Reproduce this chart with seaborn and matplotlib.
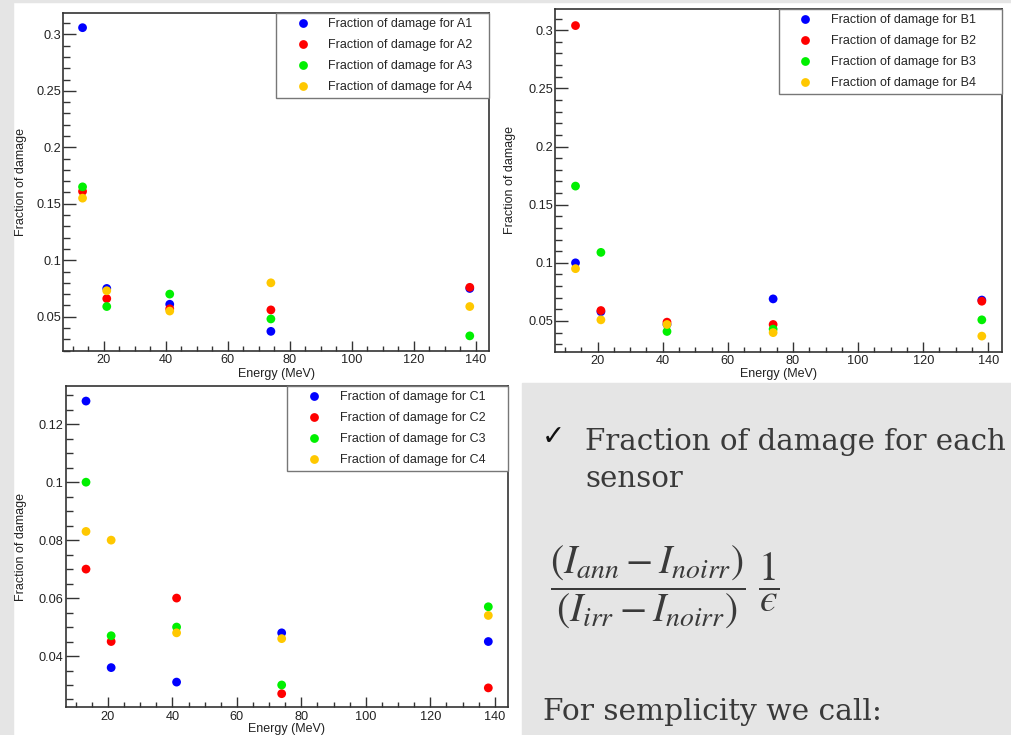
import matplotlib
matplotlib.use("Agg")
import matplotlib.pyplot as plt
from matplotlib.patches import Rectangle
from matplotlib.ticker import MultipleLocator, FuncFormatter
import pandas as pd
import seaborn as sns

# energie dei fasci (MeV)
energy = [13.2, 21.0, 41.3, 73.9, 138.0]

# frazione di danno, sensori A
a1 = [0.306, 0.075, 0.061, 0.037, 0.075]
a2 = [0.161, 0.066, 0.057, 0.056, 0.076]
a3 = [0.165, 0.059, 0.070, 0.048, 0.033]
a4 = [0.155, 0.073, 0.055, 0.080, 0.059]

# sensori B
b1 = [0.100, 0.058, 0.047, 0.069, 0.068]
b2 = [0.304, 0.059, 0.049, 0.047, 0.067]
b3 = [0.166, 0.109, 0.041, 0.043, 0.051]
b4 = [0.095, 0.051, 0.047, 0.040, 0.037]

# sensori C
c1 = [0.128, 0.036, 0.031, 0.048, 0.045]
c2 = [0.070, 0.045, 0.060, 0.027, 0.029]
c3 = [0.100, 0.047, 0.050, 0.030, 0.057]
c4 = [0.083, 0.080, 0.048, 0.046, 0.054]

colors = ['#0000ff', '#ff0000', '#00f000', '#ffc800']

W, H = 1011, 735
sns.set_style("white")
plt.rcParams['font.family'] = ['Liberation Sans', 'DejaVu Sans']
plt.rcParams['mathtext.fontset'] = 'stix'

fig = plt.figure(figsize=(W / 100, H / 100), dpi=100, facecolor='white')
grey = '#e5e5e5'


def box(l, t, r, b):
    return [l / W, 1 - b / H, (r - l) / W, (b - t) / H]


def px(x, y):
    return x / W, 1 - y / H


# sfondo grigio della slide
for l, t, r, b in [(0, 0, 13, H), (0, 0, W, 2), (522, 383, W, H)]:
    fig.patches.append(Rectangle((l / W, 1 - b / H), (r - l) / W, (b - t) / H,
                                 transform=fig.transFigure, color=grey, zorder=-5))


def panel(rect, letter, series, ylim, ymaj, ymin, ylab_x, xlab_y):
    ax = fig.add_axes(box(*rect))
    names = [f"Fraction of damage for {letter}{i + 1}" for i in range(4)]
    df = pd.DataFrame({
        'Energy': energy * 4,
        'Fraction': sum(series, []),
        'Sensor': [n for n in names for _ in energy],
    })
    sns.scatterplot(data=df, x='Energy', y='Fraction', hue='Sensor', hue_order=names,
                    palette=dict(zip(names, colors)), s=40, linewidth=0, ax=ax)
    sns.move_legend(ax, 'upper left', bbox_to_anchor=(0.5, 0.7, 0.5, 0.3), mode='expand',
                    title=None, fontsize=9, frameon=True, fancybox=False, framealpha=1,
                    edgecolor='#777777', borderpad=0.4, labelspacing=0.72,
                    handlelength=3.45, handletextpad=0.35, borderaxespad=0)
    ax.get_legend().get_frame().set_linewidth(1.0)

    ax.set_xlim(6.9, 144.2)
    ax.set_ylim(*ylim)
    ax.xaxis.set_major_locator(MultipleLocator(20))
    ax.xaxis.set_minor_locator(MultipleLocator(5))
    ax.yaxis.set_major_locator(MultipleLocator(ymaj))
    ax.yaxis.set_minor_locator(MultipleLocator(ymin))
    ax.yaxis.set_major_formatter(FuncFormatter(lambda v, p: f"{v:g}"))
    ax.tick_params(which='both', direction='in', bottom=True, left=True, top=False, right=False,
                   width=1, color='#333333', labelcolor='#222222', labelsize=9.2)
    ax.tick_params(axis='x', which='major', length=7.2, pad=2.5)
    ax.tick_params(axis='x', which='minor', length=3.6)
    ax.tick_params(axis='y', which='major', length=9.1, pad=1.5)
    ax.tick_params(axis='y', which='minor', length=4.8)
    for sp in ax.spines.values():
        sp.set_color('#333333')
        sp.set_linewidth(1.2)

    ax.set_xlabel('Energy (MeV)', fontsize=9, color='#222222')
    ax.set_ylabel('Fraction of damage', fontsize=9, color='#222222')
    ax.xaxis.set_label_coords(0.5, xlab_y)
    ax.yaxis.set_label_coords(ylab_x, 0.5)
    return ax


panel((63, 13, 489, 351), 'A', [a1, a2, a3, a4], (0.0196, 0.319), 0.05, 0.01, -0.085, -0.05)
panel((555, 9.3, 1002, 351.7), 'B', [b1, b2, b3, b4], (0.0236, 0.318), 0.05, 0.01, -0.088, -0.048)
panel((65.7, 386, 508.3, 707.3), 'C', [c1, c2, c3, c4], (0.0223, 0.1332), 0.02, 0.005, -0.088, -0.05)

# testo della slide
txt = '#3a3a3a'
fig.text(*px(553, 437), '\u2713', family='DejaVu Sans', fontsize=20, fontweight='bold',
         color='#111111', ha='center', va='center')
fig.text(*px(585, 450), 'Fraction of damage for each', family='DejaVu Serif', fontsize=21.1,
         color=txt, ha='left', va='baseline')
fig.text(*px(585, 487), 'sensor', family='DejaVu Serif', fontsize=21.1,
         color=txt, ha='left', va='baseline')
fig.text(*px(550, 587),
         '$\\dfrac{(I_{ann}-I_{noirr})}{(I_{irr}-I_{noirr})}\\ \\dfrac{1}{\u03f5}$',
         fontsize=28.5, color=txt, ha='left', va='center')
fig.text(*px(543, 720), 'For semplicity we call:', family='DejaVu Serif', fontsize=21.3,
         color=txt, ha='left', va='baseline')

fig.savefig('out.png', dpi=100, facecolor=fig.get_facecolor())
